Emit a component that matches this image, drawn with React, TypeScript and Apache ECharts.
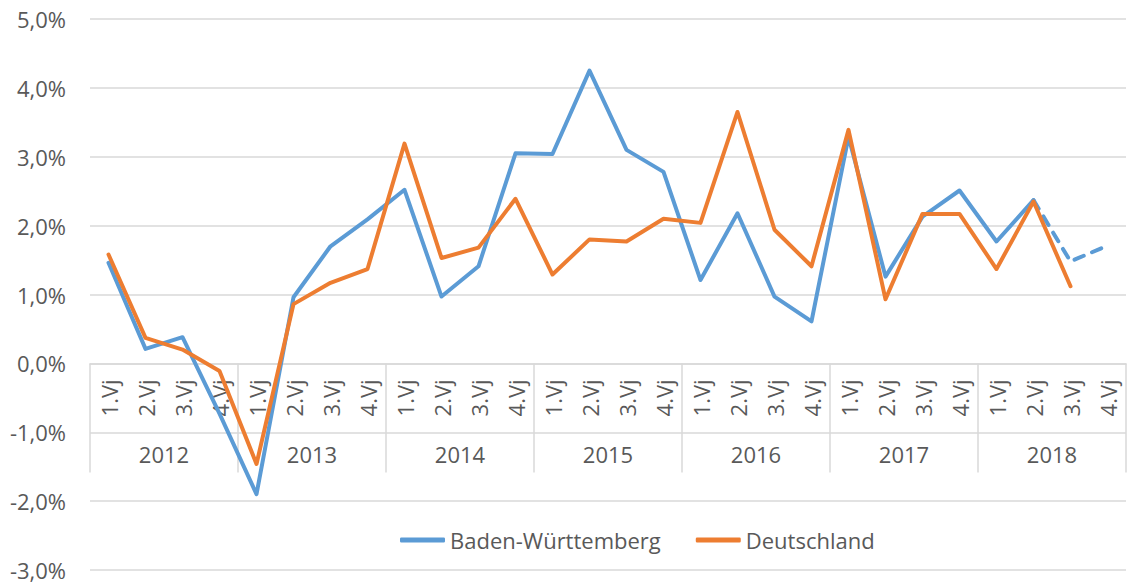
import React, { useEffect, useRef } from "react";
import * as echarts from "echarts";

const years = ["2012", "2013", "2014", "2015", "2016", "2017", "2018"];
const quarterLabels = ["1.Vj", "2.Vj", "3.Vj", "4.Vj"];
const yTicks = { min: -3, max: 5, interval: 1 };

// Baden-Württemberg (solid part)
const bwValues: (number | null)[] = [
  1.46, 0.21, 0.38, -0.73, -1.9, 0.96, 1.7, 2.09, 2.52, 0.97, 1.41, 3.05, 3.04,
  4.25, 3.1, 2.78, 1.21, 2.18, 0.97, 0.61, 3.29, 1.26, 2.13, 2.51, 1.77, 2.37,
  null, null,
];
// Baden-Württemberg (dashed continuation)
const bwDashed: (number | null)[] = [
  null, null, null, null, null, null, null, null, null, null, null, null, null,
  null, null, null, null, null, null, null, null, null, null, null, null, 2.37,
  1.48, 1.71,
];
// Deutschland
const deValues: (number | null)[] = [
  1.58, 0.37, 0.2, -0.11, -1.46, 0.86, 1.17, 1.37, 3.19, 1.53, 1.68, 2.39, 1.29,
  1.8, 1.77, 2.1, 2.04, 3.65, 1.94, 1.41, 3.39, 0.93, 2.17, 2.17, 1.37, 2.35,
  1.12, null,
];

const categories = years.flatMap((y) => quarterLabels.map((q) => q));

const FONT = "'Open Sans', sans-serif";
const TXT = "#595959";
const GRID = "#d9d9d9";
const BLUE = "#5B9BD5";
const ORANGE = "#ED7D31";

const W = 1128;
const H = 586;
const GRID_TOP = 19;
const GRID_BOTTOM = 16;
const plotH = H - GRID_TOP - GRID_BOTTOM;
// offset that lifts the category axes from the grid's bottom edge to the 0 line
const zeroOffset = -(plotH * (0 - yTicks.min)) / (yTicks.max - yTicks.min);

export default function App() {
  const ref = useRef<HTMLDivElement>(null);
  useEffect(() => {
    if (!ref.current) return;
    const chart = echarts.init(ref.current, undefined, { renderer: "svg" });
    chart.setOption({
      animation: false,
      backgroundColor: "#ffffff",
      textStyle: { fontFamily: FONT },
      grid: {
        left: 90,
        right: 2,
        top: GRID_TOP,
        bottom: GRID_BOTTOM,
        containLabel: false,
        outerBoundsMode: "none",
      },
      xAxis: [
        {
          type: "category",
          data: categories,
          position: "bottom",
          offset: zeroOffset,
          boundaryGap: true,
          axisLine: {
            show: true,
            onZero: false,
            lineStyle: { color: GRID, width: 1.5 },
          },
          axisTick: { show: false },
          axisLabel: {
            interval: 0,
            rotate: 90,
            margin: 16,
            fontSize: 22,
            color: TXT,
            fontFamily: FONT,
          },
          splitLine: { show: false },
        },
        {
          type: "category",
          data: years,
          position: "bottom",
          offset: zeroOffset,
          boundaryGap: true,
          axisLine: { show: false, onZero: false },
          axisTick: {
            show: true,
            interval: 0,
            length: 109,
            lineStyle: { color: GRID, width: 1.5 },
          },
          axisLabel: {
            interval: 0,
            margin: 80,
            fontSize: 22,
            color: TXT,
            fontFamily: FONT,
          },
          splitLine: { show: false },
        },
      ],
      yAxis: {
        type: "value",
        min: yTicks.min,
        max: yTicks.max,
        interval: yTicks.interval,
        axisLine: { show: false },
        axisTick: { show: false },
        axisLabel: {
          margin: 24,
          fontSize: 22,
          color: TXT,
          fontFamily: FONT,
          formatter: (v: number) => v.toFixed(1).replace(".", ",") + "%",
        },
        splitLine: { show: true, lineStyle: { color: GRID, width: 1.5 } },
      },
      legend: {
        data: ["Baden-Württemberg", "Deutschland"],
        left: 395,
        top: 524,
        icon: "roundRect",
        itemWidth: 45,
        itemHeight: 5,
        itemGap: 35,
        textStyle: { fontSize: 22, color: TXT, fontFamily: FONT },
      },
      series: [
        {
          name: "Baden-Württemberg",
          type: "line",
          data: bwValues,
          xAxisIndex: 0,
          symbol: "none",
          connectNulls: false,
          lineStyle: { color: BLUE, width: 4, cap: "round", join: "round" },
          itemStyle: { color: BLUE },
        },
        {
          name: "BW-Prognose",
          type: "line",
          data: bwDashed,
          xAxisIndex: 0,
          symbol: "none",
          lineStyle: { color: BLUE, width: 4, type: [10, 9], cap: "round", join: "round" },
          itemStyle: { color: BLUE },
        },
        {
          name: "Deutschland",
          type: "line",
          data: deValues,
          xAxisIndex: 0,
          symbol: "none",
          lineStyle: { color: ORANGE, width: 4, cap: "round", join: "round" },
          itemStyle: { color: ORANGE },
        },
      ],
    });
    return () => chart.dispose();
  }, []);
  return (
    <div
      ref={ref}
      style={{ position: "fixed", left: 0, top: 0, width: W, height: H }}
    />
  );
}
